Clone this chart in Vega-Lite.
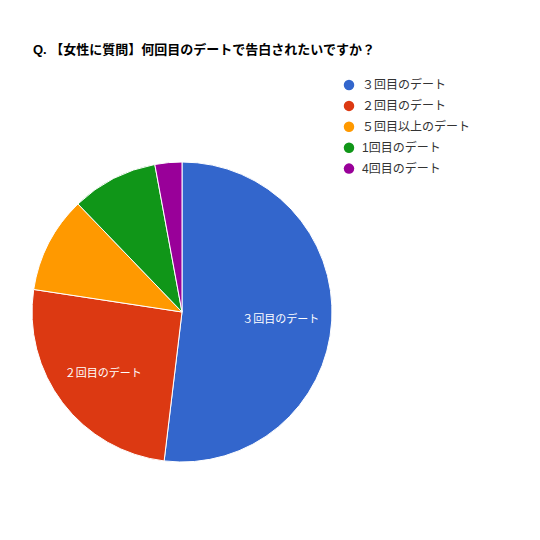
{
  "$schema": "https://vega.github.io/schema/vega-lite/v6.json",
  "autosize": {"type": "none"},
  "width": 364,
  "height": 300,
  "padding": {"left": 0, "top": 162, "right": 176, "bottom": 78},
  "background": "#ffffff",
  "title": {
    "text": "Q. 【女性に質問】何回目のデートで告白されたいですか？",
    "anchor": "start",
    "frame": "group",
    "dx": 33,
    "offset": 22,
    "font": "Liberation Sans, Noto Sans CJK JP",
    "fontSize": 13,
    "fontWeight": "bold",
    "color": "#000000"
  },
  "data": {
    "values": [
      {"idx": 1, "label": "３回目のデート", "value": 51.9},
      {"idx": 2, "label": "２回目のデート", "value": 25.5},
      {"idx": 3, "label": "５回目以上のデート", "value": 10.4},
      {"idx": 4, "label": "1回目のデート", "value": 9.3},
      {"idx": 5, "label": "4回目のデート", "value": 2.9}
    ]
  },
  "encoding": {
    "theta": {"field": "value", "type": "quantitative", "stack": true},
    "order": {"field": "idx", "type": "quantitative"},
    "color": {
      "field": "label",
      "type": "nominal",
      "sort": null,
      "scale": {
        "domain": ["３回目のデート", "２回目のデート", "５回目以上のデート", "1回目のデート", "4回目のデート"],
        "range": ["#3366cc", "#dc3912", "#ff9900", "#109618", "#990099"]
      },
      "legend": {
        "title": null,
        "orient": "none",
        "legendX": 343,
        "legendY": -83,
        "padding": 0,
        "symbolType": "circle",
        "symbolSize": 110,
        "symbolStrokeWidth": 0,
        "labelFont": "Liberation Sans, Noto Sans CJK JP",
        "labelFontSize": 12,
        "labelColor": "#333333",
        "labelOffset": 7,
        "rowPadding": 8.9
      }
    }
  },
  "layer": [
    {
      "mark": {"type": "arc", "outerRadius": 150, "stroke": "#ffffff", "strokeWidth": 1}
    },
    {
      "mark": {
        "type": "text",
        "radius": 99,
        "dy": 2,
        "font": "Liberation Sans, Noto Sans CJK JP",
        "fontSize": 11,
        "color": "#ffffff"
      },
      "encoding": {
        "color": {"value": "#ffffff"},
        "text": {
          "condition": {"test": "datum.value > 20", "field": "label"},
          "value": ""
        }
      }
    }
  ]
}
